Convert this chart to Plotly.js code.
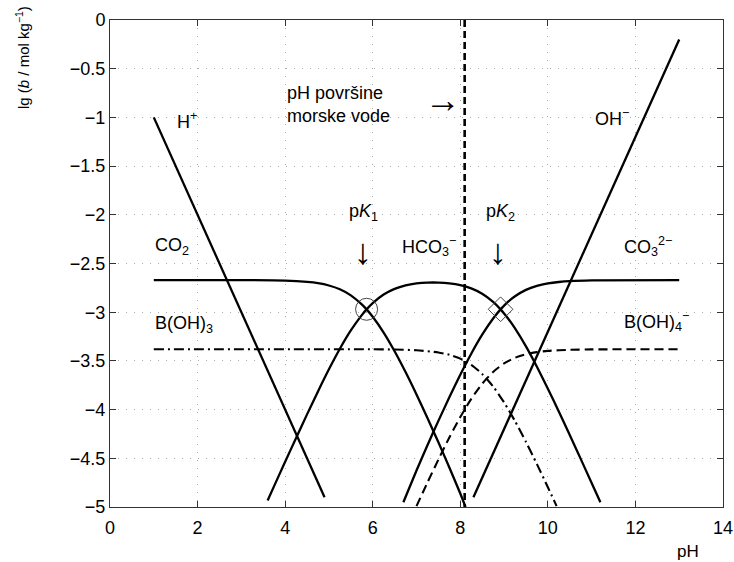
<!DOCTYPE html>
<html>
<head>
<meta charset="utf-8">
<script src="https://cdn.plot.ly/plotly-3.0.1.min.js"></script>
<style>
  body { margin: 0; background: #fff; }
  #chart { width: 734px; height: 562px; }
</style>
</head>
<body>
<div id="chart"></div>
<script>
// values (pH vs lg b)
const h_pH = [1, 4.9];
const h_lg = [-1, -4.9];

const oh_pH = [8.3, 13];
const oh_lg = [-4.9, -0.2];

const co2_pH = [1, 3, 4, 4.5, 4.75, 5, 5.25, 5.5, 5.75, 5.86, 6, 6.25, 6.5, 6.75, 7, 7.25, 7.5, 7.75, 8, 8.12];
const co2_lg = [-2.67, -2.67, -2.676, -2.689, -2.702, -2.726, -2.765, -2.827, -2.92, -2.971, -3.047, -3.209, -3.401, -3.615, -3.845, -4.086, -4.336, -4.594, -4.862, -5.0];

const hco3_pH = [3.6, 3.75, 4, 4.25, 4.5, 4.75, 5, 5.25, 5.5, 5.75, 5.86, 6, 6.25, 6.5, 6.75, 7, 7.25, 7.5, 7.75, 8, 8.25, 8.5, 8.75, 8.92, 9, 9.1, 9.25, 9.5, 9.75, 10, 10.25, 10.5, 10.75, 11, 11.2];
const hco3_lg = [-4.933, -4.783, -4.536, -4.291, -4.049, -3.813, -3.586, -3.375, -3.187, -3.03, -2.971, -2.907, -2.819, -2.761, -2.725, -2.705, -2.696, -2.696, -2.704, -2.722, -2.756, -2.811, -2.895, -2.971, -3.013, -3.07, -3.167, -3.351, -3.56, -3.785, -4.02, -4.261, -4.506, -4.754, -4.952];

const co3_pH = [6.7, 7, 7.25, 7.5, 7.75, 8, 8.25, 8.5, 8.75, 8.92, 9, 9.1, 9.25, 9.5, 9.75, 10, 10.25, 10.5, 11, 13];
const co3_lg = [-4.951, -4.625, -4.366, -4.116, -3.874, -3.642, -3.426, -3.231, -3.065, -2.971, -2.933, -2.89, -2.837, -2.771, -2.73, -2.705, -2.69, -2.681, -2.674, -2.67];

const boh3_pH = [1, 6, 6.5, 7, 7.5, 7.75, 8, 8.25, 8.5, 8.75, 9, 9.25, 9.5, 9.75, 10, 10.2];
const boh3_lg = [-3.38, -3.381, -3.383, -3.391, -3.413, -3.437, -3.477, -3.54, -3.634, -3.763, -3.926, -4.118, -4.332, -4.56, -4.797, -4.991];

const boh4_pH = [7, 7.25, 7.5, 7.75, 8, 8.25, 8.5, 8.75, 9, 9.25, 9.5, 9.75, 10, 10.5, 11, 13];
const boh4_lg = [-4.991, -4.749, -4.513, -4.287, -4.077, -3.89, -3.734, -3.613, -3.526, -3.468, -3.432, -3.41, -3.397, -3.386, -3.382, -3.38];

const seaPH = [8.1, 8.1];
const seaLg = [0, -5];

const pK_pH = [5.86, 8.92];
const pK_lg = [-2.97, -2.97];

const xTicks = [0, 2, 4, 6, 8, 10, 12, 14];
const yTicks = [0, -0.5, -1, -1.5, -2, -2.5, -3, -3.5, -4, -4.5, -5];
const yTickText = ['0', '−0.5', '−1', '−1.5', '−2', '−2.5', '−3', '−3.5', '−4', '−4.5', '−5'];

function lineTrace(x, y, dash, width) {
    return {
        x: x,
        y: y,
        type: 'scatter',
        mode: 'lines',
        line: {color: 'black', width: width, dash: dash, shape: 'spline', smoothing: 0.6},
        hoverinfo: 'skip'
    };
}

const traces = [
    lineTrace(h_pH, h_lg, 'solid', 2.3),
    lineTrace(oh_pH, oh_lg, 'solid', 2.3),
    lineTrace(co2_pH, co2_lg, 'solid', 2.3),
    lineTrace(hco3_pH, hco3_lg, 'solid', 2.3),
    lineTrace(co3_pH, co3_lg, 'solid', 2.3),
    lineTrace(boh3_pH, boh3_lg, '10px,4px,2px,4px', 2.1),
    lineTrace(boh4_pH, boh4_lg, '9px,5px', 2.1),
    lineTrace(seaPH, seaLg, '7px,4px', 2.6),
    {
        x: [pK_pH[0]],
        y: [pK_lg[0]],
        type: 'scatter',
        mode: 'markers',
        marker: {symbol: 'circle-open', size: 22, color: '#444', line: {width: 1}},
        hoverinfo: 'skip'
    },
    {
        x: [pK_pH[1]],
        y: [pK_lg[1]],
        type: 'scatter',
        mode: 'markers',
        marker: {symbol: 'diamond-open', size: 19, color: '#444', line: {width: 1}},
        hoverinfo: 'skip'
    }
];

const lblFont = {family: 'Liberation Sans, Arial, sans-serif', size: 18, color: 'black'};
const arrowFont = {family: 'Liberation Serif, serif', size: 36, color: 'black'};

function label(x, y, text, xanchor, font) {
    return {x: x, y: y, text: text, showarrow: false, xanchor: xanchor || 'center', yanchor: 'middle', font: font || lblFont};
}

const annotations = [
    label(1.76, -1.03, 'H<sup>+</sup>'),
    label(11.47, -1.0, 'OH<sup>−</sup>'),
    label(0.98, -2.33, 'CO<sub>2</sub>', 'left'),
    label(0.98, -3.13, 'B(OH)<sub>3</sub>', 'left'),
    label(5.78, -1.98, 'p<i>K</i><sub>1</sub>'),
    label(5.78, -2.38, '↓', 'center', arrowFont),
    label(6.63, -2.33, 'HCO<sub>3</sub><sup>−</sup>', 'left'),
    label(8.91, -1.98, 'p<i>K</i><sub>2</sub>'),
    label(8.86, -2.38, '↓', 'center', arrowFont),
    label(11.7, -2.33, 'CO<sub>3</sub><sup>2−</sup>', 'left'),
    label(11.7, -3.1, 'B(OH)<sub>4</sub><sup>−</sup>', 'left'),
    Object.assign(label(4.0, -0.87, 'pH površine<br>morske vode', 'left'), {align: 'left'}),
    label(7.6, -0.82, '→', 'center', arrowFont),
    {
        xref: 'paper', yref: 'paper', x: -0.1436, y: 0.924,
        text: 'lg (<i>b</i> / mol kg<sup>−1</sup>)', textangle: -90,
        showarrow: false, xanchor: 'center', yanchor: 'middle',
        font: {family: 'Liberation Sans, Arial, sans-serif', size: 15, color: 'black'}
    },
    {
        xref: 'paper', yref: 'paper', x: 0.943, y: -0.092,
        text: 'pH', showarrow: false, xanchor: 'center', yanchor: 'middle',
        font: {family: 'Liberation Sans, Arial, sans-serif', size: 17, color: 'black'}
    }
];

const axisCommon = {
    showline: true,
    linecolor: '#333',
    linewidth: 1,
    mirror: 'ticks',
    ticks: 'inside',
    ticklen: 6,
    tickcolor: '#333',
    showgrid: true,
    gridcolor: '#aaa',
    griddash: '1px,7px',
    gridwidth: 1,
    zeroline: false,
    fixedrange: true,
    tickfont: {family: 'Liberation Sans, Arial, sans-serif', size: 18, color: 'black'}
};

const layout = {
    width: 734,
    height: 562,
    margin: {l: 110, r: 11, t: 20, b: 55},
    showlegend: false,
    plot_bgcolor: 'white',
    paper_bgcolor: 'white',
    xaxis: Object.assign({}, axisCommon, {
        range: [0, 14],
        tickvals: xTicks,
        ticktext: xTicks.map(String),
        ticklabelstandoff: 4
    }),
    yaxis: Object.assign({}, axisCommon, {
        range: [-5, 0],
        tickvals: yTicks,
        ticktext: yTickText,
        ticklabelstandoff: 0
    }),
    annotations: annotations
};

Plotly.newPlot('chart', traces, layout, {displayModeBar: false});
</script>
</body>
</html>
